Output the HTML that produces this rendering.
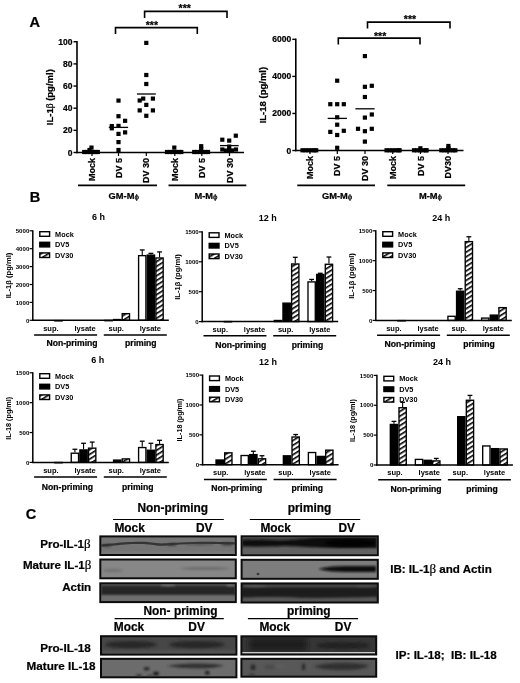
<!DOCTYPE html>
<html><head><meta charset="utf-8"><style>
html,body{margin:0;padding:0;background:#fff;}
svg{display:block;filter:blur(0.3px);}
text{font-family:"Liberation Sans", sans-serif;stroke:#000;stroke-width:0.22px;}
text.t{stroke:none;}
</style></head><body>
<svg width="520" height="683" viewBox="0 0 520 683">
<defs>
<pattern id="hatch" patternUnits="userSpaceOnUse" width="4" height="4" patternTransform="rotate(-32)">
<rect width="4" height="4" fill="#fff"/><rect width="4" height="1.6" fill="#000"/>
</pattern>
<filter id="b0_25" x="-50%" y="-50%" width="200%" height="200%"><feGaussianBlur stdDeviation="0.25"/></filter>
<filter id="b0_5" x="-50%" y="-50%" width="200%" height="200%"><feGaussianBlur stdDeviation="0.5"/></filter>
<filter id="b0_7" x="-50%" y="-50%" width="200%" height="200%"><feGaussianBlur stdDeviation="0.7"/></filter>
<filter id="b0_8" x="-50%" y="-50%" width="200%" height="200%"><feGaussianBlur stdDeviation="0.8"/></filter>
<filter id="b0_9" x="-50%" y="-50%" width="200%" height="200%"><feGaussianBlur stdDeviation="0.9"/></filter>
<filter id="b1" x="-50%" y="-50%" width="200%" height="200%"><feGaussianBlur stdDeviation="1"/></filter>
<filter id="b1_2" x="-50%" y="-50%" width="200%" height="200%"><feGaussianBlur stdDeviation="1.2"/></filter>
<filter id="b1_5" x="-50%" y="-50%" width="200%" height="200%"><feGaussianBlur stdDeviation="1.5"/></filter>
<filter id="b2_5" x="-50%" y="-50%" width="200%" height="200%"><feGaussianBlur stdDeviation="2.5"/></filter>
</defs>
<rect width="520" height="683" fill="#fff"/>
<text x="29.4" y="27.3" font-size="14.6" text-anchor="start" font-weight="bold" font-family='"Liberation Sans", sans-serif' fill="#000">A</text>
<line x1="77" y1="41" x2="77" y2="153.25" stroke="#000" stroke-width="1.6"/>
<line x1="73.5" y1="41.75" x2="77" y2="41.75" stroke="#000" stroke-width="1.4"/>
<text x="72.4" y="44.75" font-size="8.5" text-anchor="end" font-weight="bold" font-family='"Liberation Sans", sans-serif' fill="#000">100</text>
<line x1="73.5" y1="63.9" x2="77" y2="63.9" stroke="#000" stroke-width="1.4"/>
<text x="72.4" y="66.9" font-size="8.5" text-anchor="end" font-weight="bold" font-family='"Liberation Sans", sans-serif' fill="#000">80</text>
<line x1="73.5" y1="86.05" x2="77" y2="86.05" stroke="#000" stroke-width="1.4"/>
<text x="72.4" y="89.05" font-size="8.5" text-anchor="end" font-weight="bold" font-family='"Liberation Sans", sans-serif' fill="#000">60</text>
<line x1="73.5" y1="108.2" x2="77" y2="108.2" stroke="#000" stroke-width="1.4"/>
<text x="72.4" y="111.2" font-size="8.5" text-anchor="end" font-weight="bold" font-family='"Liberation Sans", sans-serif' fill="#000">40</text>
<line x1="73.5" y1="130.35" x2="77" y2="130.35" stroke="#000" stroke-width="1.4"/>
<text x="72.4" y="133.35" font-size="8.5" text-anchor="end" font-weight="bold" font-family='"Liberation Sans", sans-serif' fill="#000">20</text>
<line x1="73.5" y1="152.5" x2="77" y2="152.5" stroke="#000" stroke-width="1.4"/>
<text x="72.4" y="155.5" font-size="8.5" text-anchor="end" font-weight="bold" font-family='"Liberation Sans", sans-serif' fill="#000">0</text>
<line x1="76.2" y1="152.5" x2="244" y2="152.5" stroke="#000" stroke-width="1.6"/>
<line x1="92" y1="152.5" x2="92" y2="156" stroke="#000" stroke-width="1.2"/>
<text x="95.2" y="157.9" font-size="9" text-anchor="end" font-weight="bold" font-family='"Liberation Sans", sans-serif' fill="#000" transform="rotate(-90 95.2 157.9)">Mock</text>
<line x1="118.5" y1="152.5" x2="118.5" y2="156" stroke="#000" stroke-width="1.2"/>
<text x="121.7" y="157.9" font-size="9" text-anchor="end" font-weight="bold" font-family='"Liberation Sans", sans-serif' fill="#000" transform="rotate(-90 121.7 157.9)">DV 5</text>
<line x1="146.3" y1="152.5" x2="146.3" y2="156" stroke="#000" stroke-width="1.2"/>
<text x="149.5" y="157.9" font-size="9" text-anchor="end" font-weight="bold" font-family='"Liberation Sans", sans-serif' fill="#000" transform="rotate(-90 149.5 157.9)">DV 30</text>
<line x1="174.8" y1="152.5" x2="174.8" y2="156" stroke="#000" stroke-width="1.2"/>
<text x="178" y="157.9" font-size="9" text-anchor="end" font-weight="bold" font-family='"Liberation Sans", sans-serif' fill="#000" transform="rotate(-90 178 157.9)">Mock</text>
<line x1="201.8" y1="152.5" x2="201.8" y2="156" stroke="#000" stroke-width="1.2"/>
<text x="205" y="157.9" font-size="9" text-anchor="end" font-weight="bold" font-family='"Liberation Sans", sans-serif' fill="#000" transform="rotate(-90 205 157.9)">DV 5</text>
<line x1="229.5" y1="152.5" x2="229.5" y2="156" stroke="#000" stroke-width="1.2"/>
<text x="232.7" y="157.9" font-size="9" text-anchor="end" font-weight="bold" font-family='"Liberation Sans", sans-serif' fill="#000" transform="rotate(-90 232.7 157.9)">DV 30</text>
<text x="53.2" y="97.2" font-size="9.5" text-anchor="middle" font-weight="bold" font-family='"Liberation Sans", sans-serif' fill="#000" transform="rotate(-90 53.2 97.2)">IL-1<tspan font-family='"Liberation Serif", serif' font-weight="normal">β</tspan> (pg/ml)</text>
<line x1="78" y1="185.4" x2="157" y2="185.4" stroke="#000" stroke-width="1.6"/>
<text x="108.6" y="199.2" font-size="9.3" text-anchor="start" font-weight="bold" font-family='"Liberation Sans", sans-serif' fill="#000">GM-M<tspan font-size="8" font-weight="normal">ϕ</tspan></text>
<line x1="168.5" y1="185.4" x2="246.3" y2="185.4" stroke="#000" stroke-width="1.6"/>
<text x="194.4" y="199.2" font-size="9.3" text-anchor="start" font-weight="bold" font-family='"Liberation Sans", sans-serif' fill="#000">M-M<tspan font-size="8" font-weight="normal">ϕ</tspan></text>
<rect x="82.1" y="149.9" width="4.2" height="4.2" fill="#000"/>
<rect x="84.9" y="149.9" width="4.2" height="4.2" fill="#000"/>
<rect x="87.9" y="149.9" width="4.2" height="4.2" fill="#000"/>
<rect x="90.9" y="149.9" width="4.2" height="4.2" fill="#000"/>
<rect x="93.4" y="149.9" width="4.2" height="4.2" fill="#000"/>
<rect x="95.7" y="149.9" width="4.2" height="4.2" fill="#000"/>
<rect x="89.4" y="145.5" width="4.2" height="4.2" fill="#000"/>
<rect x="87.4" y="147.9" width="4.2" height="4.2" fill="#000"/>
<rect x="116.4" y="98.5" width="4.2" height="4.2" fill="#000"/>
<rect x="116.4" y="114.1" width="4.2" height="4.2" fill="#000"/>
<rect x="123" y="118.7" width="4.2" height="4.2" fill="#000"/>
<rect x="109.7" y="124" width="4.2" height="4.2" fill="#000"/>
<rect x="109.7" y="126.2" width="4.2" height="4.2" fill="#000"/>
<rect x="116.4" y="123.8" width="4.2" height="4.2" fill="#000"/>
<rect x="116.4" y="131.8" width="4.2" height="4.2" fill="#000"/>
<rect x="123" y="130.3" width="4.2" height="4.2" fill="#000"/>
<rect x="116.4" y="140" width="4.2" height="4.2" fill="#000"/>
<rect x="116.4" y="147.9" width="4.2" height="4.2" fill="#000"/>
<line x1="108.8" y1="127.4" x2="128.1" y2="127.4" stroke="#000" stroke-width="1.3"/>
<rect x="144.2" y="40.8" width="4.2" height="4.2" fill="#000"/>
<rect x="144.2" y="72.9" width="4.2" height="4.2" fill="#000"/>
<rect x="144.2" y="81.9" width="4.2" height="4.2" fill="#000"/>
<rect x="137.6" y="98.4" width="4.2" height="4.2" fill="#000"/>
<rect x="141.1" y="96.5" width="4.2" height="4.2" fill="#000"/>
<rect x="150.8" y="96.5" width="4.2" height="4.2" fill="#000"/>
<rect x="144.2" y="102.8" width="4.2" height="4.2" fill="#000"/>
<rect x="137.6" y="108.3" width="4.2" height="4.2" fill="#000"/>
<rect x="150.8" y="108.3" width="4.2" height="4.2" fill="#000"/>
<rect x="144.2" y="113.7" width="4.2" height="4.2" fill="#000"/>
<line x1="137" y1="94" x2="155.8" y2="94" stroke="#000" stroke-width="1.3"/>
<rect x="164.9" y="149.9" width="4.2" height="4.2" fill="#000"/>
<rect x="167.9" y="149.9" width="4.2" height="4.2" fill="#000"/>
<rect x="170.9" y="149.9" width="4.2" height="4.2" fill="#000"/>
<rect x="173.9" y="149.9" width="4.2" height="4.2" fill="#000"/>
<rect x="176.9" y="149.9" width="4.2" height="4.2" fill="#000"/>
<rect x="179.2" y="149.9" width="4.2" height="4.2" fill="#000"/>
<rect x="172.2" y="145.5" width="4.2" height="4.2" fill="#000"/>
<rect x="192.1" y="149.9" width="4.2" height="4.2" fill="#000"/>
<rect x="194.9" y="149.9" width="4.2" height="4.2" fill="#000"/>
<rect x="197.9" y="149.9" width="4.2" height="4.2" fill="#000"/>
<rect x="200.9" y="149.9" width="4.2" height="4.2" fill="#000"/>
<rect x="203.4" y="149.9" width="4.2" height="4.2" fill="#000"/>
<rect x="205.9" y="149.9" width="4.2" height="4.2" fill="#000"/>
<rect x="199.1" y="144.1" width="4.2" height="4.2" fill="#000"/>
<rect x="199.1" y="146.9" width="4.2" height="4.2" fill="#000"/>
<rect x="220.2" y="137.6" width="4.2" height="4.2" fill="#000"/>
<rect x="227.1" y="138.5" width="4.2" height="4.2" fill="#000"/>
<rect x="233.7" y="133.6" width="4.2" height="4.2" fill="#000"/>
<rect x="220.2" y="147.4" width="4.2" height="4.2" fill="#000"/>
<rect x="233.9" y="147.4" width="4.2" height="4.2" fill="#000"/>
<rect x="227.1" y="144.5" width="4.2" height="4.2" fill="#000"/>
<rect x="223.9" y="148.4" width="4.2" height="4.2" fill="#000"/>
<rect x="229.9" y="148.4" width="4.2" height="4.2" fill="#000"/>
<rect x="227.1" y="147.9" width="4.2" height="4.2" fill="#000"/>
<line x1="220" y1="145.6" x2="238.7" y2="145.6" stroke="#000" stroke-width="1.3"/>
<path d="M144.6 17.9 V11.4 H227 V17.9" fill="none" stroke="#000" stroke-width="1.6"/>
<text x="184.7" y="12.2" font-size="10.5" text-anchor="middle" font-weight="bold" font-family='"Liberation Sans", sans-serif' fill="#000">***</text>
<path d="M115.5 34 V27.6 H197.3 V34" fill="none" stroke="#000" stroke-width="1.6"/>
<text x="151.9" y="29" font-size="10.5" text-anchor="middle" font-weight="bold" font-family='"Liberation Sans", sans-serif' fill="#000">***</text>
<line x1="295.8" y1="38.6" x2="295.8" y2="151.25" stroke="#000" stroke-width="1.6"/>
<line x1="292.3" y1="39.35" x2="295.8" y2="39.35" stroke="#000" stroke-width="1.4"/>
<text x="291.2" y="42.35" font-size="8.5" text-anchor="end" font-weight="bold" font-family='"Liberation Sans", sans-serif' fill="#000">6000</text>
<line x1="292.3" y1="76.4" x2="295.8" y2="76.4" stroke="#000" stroke-width="1.4"/>
<text x="291.2" y="79.4" font-size="8.5" text-anchor="end" font-weight="bold" font-family='"Liberation Sans", sans-serif' fill="#000">4000</text>
<line x1="292.3" y1="113.45" x2="295.8" y2="113.45" stroke="#000" stroke-width="1.4"/>
<text x="291.2" y="116.45" font-size="8.5" text-anchor="end" font-weight="bold" font-family='"Liberation Sans", sans-serif' fill="#000">2000</text>
<line x1="292.3" y1="150.5" x2="295.8" y2="150.5" stroke="#000" stroke-width="1.4"/>
<text x="291.2" y="153.5" font-size="8.5" text-anchor="end" font-weight="bold" font-family='"Liberation Sans", sans-serif' fill="#000">0</text>
<line x1="295" y1="150.5" x2="463.5" y2="150.5" stroke="#000" stroke-width="1.6"/>
<line x1="310" y1="150.5" x2="310" y2="154" stroke="#000" stroke-width="1.2"/>
<text x="313.2" y="155.9" font-size="9" text-anchor="end" font-weight="bold" font-family='"Liberation Sans", sans-serif' fill="#000" transform="rotate(-90 313.2 155.9)">Mock</text>
<line x1="337.3" y1="150.5" x2="337.3" y2="154" stroke="#000" stroke-width="1.2"/>
<text x="340.5" y="155.9" font-size="9" text-anchor="end" font-weight="bold" font-family='"Liberation Sans", sans-serif' fill="#000" transform="rotate(-90 340.5 155.9)">DV 5</text>
<line x1="365" y1="150.5" x2="365" y2="154" stroke="#000" stroke-width="1.2"/>
<text x="368.2" y="155.9" font-size="9" text-anchor="end" font-weight="bold" font-family='"Liberation Sans", sans-serif' fill="#000" transform="rotate(-90 368.2 155.9)">DV 30</text>
<line x1="392.7" y1="150.5" x2="392.7" y2="154" stroke="#000" stroke-width="1.2"/>
<text x="395.9" y="155.9" font-size="9" text-anchor="end" font-weight="bold" font-family='"Liberation Sans", sans-serif' fill="#000" transform="rotate(-90 395.9 155.9)">Mock</text>
<line x1="420.4" y1="150.5" x2="420.4" y2="154" stroke="#000" stroke-width="1.2"/>
<text x="423.6" y="155.9" font-size="9" text-anchor="end" font-weight="bold" font-family='"Liberation Sans", sans-serif' fill="#000" transform="rotate(-90 423.6 155.9)">DV 5</text>
<line x1="448" y1="150.5" x2="448" y2="154" stroke="#000" stroke-width="1.2"/>
<text x="451.2" y="155.9" font-size="9" text-anchor="end" font-weight="bold" font-family='"Liberation Sans", sans-serif' fill="#000" transform="rotate(-90 451.2 155.9)">DV30</text>
<text x="266.4" y="95.1" font-size="9.5" text-anchor="middle" font-weight="bold" font-family='"Liberation Sans", sans-serif' fill="#000" transform="rotate(-90 266.4 95.1)">IL-18 (pg/ml)</text>
<line x1="297.3" y1="185.4" x2="375" y2="185.4" stroke="#000" stroke-width="1.6"/>
<text x="322" y="199.2" font-size="9.3" text-anchor="start" font-weight="bold" font-family='"Liberation Sans", sans-serif' fill="#000">GM-M<tspan font-size="8" font-weight="normal">ϕ</tspan></text>
<line x1="387.3" y1="185.4" x2="465.2" y2="185.4" stroke="#000" stroke-width="1.6"/>
<text x="419" y="199.2" font-size="9.3" text-anchor="start" font-weight="bold" font-family='"Liberation Sans", sans-serif' fill="#000">M-M<tspan font-size="8" font-weight="normal">ϕ</tspan></text>
<rect x="300.4" y="148.2" width="4.2" height="4.2" fill="#000"/>
<rect x="303.4" y="148.2" width="4.2" height="4.2" fill="#000"/>
<rect x="306.4" y="148.2" width="4.2" height="4.2" fill="#000"/>
<rect x="309.4" y="148.2" width="4.2" height="4.2" fill="#000"/>
<rect x="312.4" y="148.2" width="4.2" height="4.2" fill="#000"/>
<rect x="314.1" y="148.2" width="4.2" height="4.2" fill="#000"/>
<rect x="335.1" y="78.6" width="4.2" height="4.2" fill="#000"/>
<rect x="328.2" y="102.1" width="4.2" height="4.2" fill="#000"/>
<rect x="335.1" y="102.1" width="4.2" height="4.2" fill="#000"/>
<rect x="341.7" y="102.1" width="4.2" height="4.2" fill="#000"/>
<rect x="335.1" y="115.2" width="4.2" height="4.2" fill="#000"/>
<rect x="335.1" y="122.6" width="4.2" height="4.2" fill="#000"/>
<rect x="328.2" y="129.8" width="4.2" height="4.2" fill="#000"/>
<rect x="341.7" y="128.7" width="4.2" height="4.2" fill="#000"/>
<rect x="335.1" y="132.9" width="4.2" height="4.2" fill="#000"/>
<rect x="335.1" y="145.7" width="4.2" height="4.2" fill="#000"/>
<line x1="327.7" y1="118.4" x2="346.9" y2="118.4" stroke="#000" stroke-width="1.3"/>
<rect x="362.8" y="54" width="4.2" height="4.2" fill="#000"/>
<rect x="362.8" y="84.7" width="4.2" height="4.2" fill="#000"/>
<rect x="369.7" y="83.7" width="4.2" height="4.2" fill="#000"/>
<rect x="362.8" y="94.9" width="4.2" height="4.2" fill="#000"/>
<rect x="362.8" y="115.5" width="4.2" height="4.2" fill="#000"/>
<rect x="369.7" y="112.4" width="4.2" height="4.2" fill="#000"/>
<rect x="355.9" y="126.7" width="4.2" height="4.2" fill="#000"/>
<rect x="362.8" y="129.1" width="4.2" height="4.2" fill="#000"/>
<rect x="369.7" y="126.7" width="4.2" height="4.2" fill="#000"/>
<rect x="362.8" y="139.5" width="4.2" height="4.2" fill="#000"/>
<line x1="355.4" y1="108.8" x2="374.6" y2="108.8" stroke="#000" stroke-width="1.3"/>
<rect x="384.4" y="148.2" width="4.2" height="4.2" fill="#000"/>
<rect x="387.4" y="148.2" width="4.2" height="4.2" fill="#000"/>
<rect x="390.4" y="148.2" width="4.2" height="4.2" fill="#000"/>
<rect x="393.4" y="148.2" width="4.2" height="4.2" fill="#000"/>
<rect x="396.4" y="148.2" width="4.2" height="4.2" fill="#000"/>
<rect x="397.5" y="148.2" width="4.2" height="4.2" fill="#000"/>
<rect x="411.9" y="148.2" width="4.2" height="4.2" fill="#000"/>
<rect x="414.9" y="148.2" width="4.2" height="4.2" fill="#000"/>
<rect x="417.9" y="148.2" width="4.2" height="4.2" fill="#000"/>
<rect x="420.9" y="148.2" width="4.2" height="4.2" fill="#000"/>
<rect x="423.9" y="148.2" width="4.2" height="4.2" fill="#000"/>
<rect x="424.5" y="148.2" width="4.2" height="4.2" fill="#000"/>
<rect x="418.3" y="146.2" width="4.2" height="4.2" fill="#000"/>
<rect x="439.2" y="148.2" width="4.2" height="4.2" fill="#000"/>
<rect x="442.2" y="148.2" width="4.2" height="4.2" fill="#000"/>
<rect x="445.2" y="148.2" width="4.2" height="4.2" fill="#000"/>
<rect x="448.2" y="148.2" width="4.2" height="4.2" fill="#000"/>
<rect x="451.2" y="148.2" width="4.2" height="4.2" fill="#000"/>
<rect x="453.3" y="148.2" width="4.2" height="4.2" fill="#000"/>
<rect x="446.3" y="143.9" width="4.2" height="4.2" fill="#000"/>
<rect x="446.3" y="146.4" width="4.2" height="4.2" fill="#000"/>
<path d="M367.5 28.5 V22.1 H450 V28.5" fill="none" stroke="#000" stroke-width="1.6"/>
<text x="410" y="23" font-size="10.5" text-anchor="middle" font-weight="bold" font-family='"Liberation Sans", sans-serif' fill="#000">***</text>
<path d="M338.3 44.6 V38.1 H420 V44.6" fill="none" stroke="#000" stroke-width="1.6"/>
<text x="380.1" y="40" font-size="10.5" text-anchor="middle" font-weight="bold" font-family='"Liberation Sans", sans-serif' fill="#000">***</text>
<text x="29.7" y="202.1" font-size="14.6" text-anchor="start" font-weight="bold" font-family='"Liberation Sans", sans-serif' fill="#000">B</text>
<rect x="54.88" y="320.62" width="7.3" height="0.3" fill="url(#hatch)" stroke="#000" stroke-width="1.35"/>
<rect x="104.92" y="320.44" width="7.3" height="0.3" fill="#fff" stroke="#000" stroke-width="1.35"/>
<rect x="113.57" y="319.54" width="7.3" height="0.76" fill="#000" stroke="#000" stroke-width="1.35"/>
<rect x="122.22" y="313.64" width="7.3" height="6.66" fill="url(#hatch)" stroke="#000" stroke-width="1.35"/>
<line x1="142.23" y1="249.95" x2="142.23" y2="254.97" stroke="#000" stroke-width="1.1"/>
<line x1="139.83" y1="249.95" x2="144.63" y2="249.95" stroke="#000" stroke-width="1.3"/>
<rect x="138.59" y="255.64" width="7.3" height="64.66" fill="#fff" stroke="#000" stroke-width="1.35"/>
<line x1="150.88" y1="253.35" x2="150.88" y2="254.43" stroke="#000" stroke-width="1.1"/>
<line x1="148.48" y1="253.35" x2="153.28" y2="253.35" stroke="#000" stroke-width="1.3"/>
<rect x="147.24" y="255.1" width="7.3" height="65.2" fill="#000" stroke="#000" stroke-width="1.35"/>
<line x1="159.53" y1="251.92" x2="159.53" y2="257.29" stroke="#000" stroke-width="1.1"/>
<line x1="157.13" y1="251.92" x2="161.94" y2="251.92" stroke="#000" stroke-width="1.3"/>
<rect x="155.89" y="257.97" width="7.3" height="62.33" fill="url(#hatch)" stroke="#000" stroke-width="1.35"/>
<line x1="32.8" y1="230.2" x2="32.8" y2="321" stroke="#000" stroke-width="1.5"/>
<line x1="29.6" y1="320.3" x2="32.8" y2="320.3" stroke="#000" stroke-width="1.2"/>
<text x="29.3" y="322.5" font-size="6.1" text-anchor="end" font-weight="bold" font-family='"Liberation Sans", sans-serif' fill="#000" class="t">0</text>
<line x1="29.6" y1="302.4" x2="32.8" y2="302.4" stroke="#000" stroke-width="1.2"/>
<text x="29.3" y="304.6" font-size="6.1" text-anchor="end" font-weight="bold" font-family='"Liberation Sans", sans-serif' fill="#000" class="t">1000</text>
<line x1="29.6" y1="284.5" x2="32.8" y2="284.5" stroke="#000" stroke-width="1.2"/>
<text x="29.3" y="286.7" font-size="6.1" text-anchor="end" font-weight="bold" font-family='"Liberation Sans", sans-serif' fill="#000" class="t">2000</text>
<line x1="29.6" y1="266.6" x2="32.8" y2="266.6" stroke="#000" stroke-width="1.2"/>
<text x="29.3" y="268.8" font-size="6.1" text-anchor="end" font-weight="bold" font-family='"Liberation Sans", sans-serif' fill="#000" class="t">3000</text>
<line x1="29.6" y1="248.7" x2="32.8" y2="248.7" stroke="#000" stroke-width="1.2"/>
<text x="29.3" y="250.9" font-size="6.1" text-anchor="end" font-weight="bold" font-family='"Liberation Sans", sans-serif' fill="#000" class="t">4000</text>
<line x1="29.6" y1="230.8" x2="32.8" y2="230.8" stroke="#000" stroke-width="1.2"/>
<text x="29.3" y="233" font-size="6.1" text-anchor="end" font-weight="bold" font-family='"Liberation Sans", sans-serif' fill="#000" class="t">5000</text>
<line x1="32.1" y1="320.3" x2="168.8" y2="320.3" stroke="#000" stroke-width="1.5"/>
<rect x="39.8" y="231.7" width="9.8" height="4.6" fill="#fff" stroke="#000" stroke-width="1.4"/>
<text x="55.1" y="236.6" font-size="7.3" text-anchor="start" font-weight="bold" font-family='"Liberation Sans", sans-serif' fill="#000" class="t">Mock</text>
<rect x="39.8" y="242.3" width="9.8" height="4.6" fill="#000" stroke="#000" stroke-width="1.4"/>
<text x="55.1" y="247.2" font-size="7.3" text-anchor="start" font-weight="bold" font-family='"Liberation Sans", sans-serif' fill="#000" class="t">DV5</text>
<rect x="39.8" y="252.9" width="9.8" height="4.6" fill="url(#hatch)" stroke="#000" stroke-width="1.4"/>
<text x="55.1" y="257.8" font-size="7.3" text-anchor="start" font-weight="bold" font-family='"Liberation Sans", sans-serif' fill="#000" class="t">DV30</text>
<text x="11.3" y="275.5" font-size="7.6" text-anchor="middle" font-weight="bold" font-family='"Liberation Sans", sans-serif' fill="#000" transform="rotate(-90 11.3 275.5)" class="t">IL-1β (pg/ml)</text>
<text x="98.5" y="219.6" font-size="9" text-anchor="middle" font-weight="bold" font-family='"Liberation Sans", sans-serif' fill="#000" class="t">6 h</text>
<text x="50.9" y="330.9" font-size="7.5" text-anchor="middle" font-weight="bold" font-family='"Liberation Sans", sans-serif' fill="#000" class="t">sup.</text>
<text x="85.1" y="330.9" font-size="7.5" text-anchor="middle" font-weight="bold" font-family='"Liberation Sans", sans-serif' fill="#000" class="t">lysate</text>
<text x="116.2" y="330.9" font-size="7.5" text-anchor="middle" font-weight="bold" font-family='"Liberation Sans", sans-serif' fill="#000" class="t">sup.</text>
<text x="150.4" y="330.9" font-size="7.5" text-anchor="middle" font-weight="bold" font-family='"Liberation Sans", sans-serif' fill="#000" class="t">lysate</text>
<line x1="34.1" y1="334.9" x2="97.1" y2="334.9" stroke="#000" stroke-width="1.5"/>
<line x1="103.8" y1="334.9" x2="166.8" y2="334.9" stroke="#000" stroke-width="1.5"/>
<text x="72" y="346.3" font-size="8.6" text-anchor="middle" font-weight="bold" font-family='"Liberation Sans", sans-serif' fill="#000">Non-priming</text>
<text x="140.8" y="346.3" font-size="8.6" text-anchor="middle" font-weight="bold" font-family='"Liberation Sans", sans-serif' fill="#000">priming</text>
<rect x="224.28" y="321.56" width="7.3" height="0.3" fill="url(#hatch)" stroke="#000" stroke-width="1.35"/>
<rect x="274.31" y="320.48" width="7.3" height="1.12" fill="#fff" stroke="#000" stroke-width="1.35"/>
<rect x="282.96" y="303.14" width="7.3" height="18.46" fill="#000" stroke="#000" stroke-width="1.35"/>
<line x1="295.26" y1="257.31" x2="295.26" y2="263.3" stroke="#000" stroke-width="1.1"/>
<line x1="292.87" y1="257.31" x2="297.66" y2="257.31" stroke="#000" stroke-width="1.3"/>
<rect x="291.62" y="263.97" width="7.3" height="57.63" fill="url(#hatch)" stroke="#000" stroke-width="1.35"/>
<line x1="311.63" y1="279.44" x2="311.63" y2="281.24" stroke="#000" stroke-width="1.1"/>
<line x1="309.24" y1="279.44" x2="314.03" y2="279.44" stroke="#000" stroke-width="1.3"/>
<rect x="307.99" y="281.91" width="7.3" height="39.69" fill="#fff" stroke="#000" stroke-width="1.35"/>
<line x1="320.28" y1="273.28" x2="320.28" y2="273.76" stroke="#000" stroke-width="1.1"/>
<line x1="317.88" y1="273.28" x2="322.68" y2="273.28" stroke="#000" stroke-width="1.3"/>
<rect x="316.63" y="274.44" width="7.3" height="47.17" fill="#000" stroke="#000" stroke-width="1.35"/>
<line x1="328.94" y1="257.02" x2="328.94" y2="263.59" stroke="#000" stroke-width="1.1"/>
<line x1="326.54" y1="257.02" x2="331.33" y2="257.02" stroke="#000" stroke-width="1.3"/>
<rect x="325.29" y="264.27" width="7.3" height="57.33" fill="url(#hatch)" stroke="#000" stroke-width="1.35"/>
<line x1="202.2" y1="231.3" x2="202.2" y2="322.3" stroke="#000" stroke-width="1.5"/>
<line x1="199" y1="321.6" x2="202.2" y2="321.6" stroke="#000" stroke-width="1.2"/>
<text x="198.7" y="323.8" font-size="6.1" text-anchor="end" font-weight="bold" font-family='"Liberation Sans", sans-serif' fill="#000" class="t">0</text>
<line x1="199" y1="291.7" x2="202.2" y2="291.7" stroke="#000" stroke-width="1.2"/>
<text x="198.7" y="293.9" font-size="6.1" text-anchor="end" font-weight="bold" font-family='"Liberation Sans", sans-serif' fill="#000" class="t">500</text>
<line x1="199" y1="261.8" x2="202.2" y2="261.8" stroke="#000" stroke-width="1.2"/>
<text x="198.7" y="264" font-size="6.1" text-anchor="end" font-weight="bold" font-family='"Liberation Sans", sans-serif' fill="#000" class="t">1000</text>
<line x1="199" y1="231.9" x2="202.2" y2="231.9" stroke="#000" stroke-width="1.2"/>
<text x="198.7" y="234.1" font-size="6.1" text-anchor="end" font-weight="bold" font-family='"Liberation Sans", sans-serif' fill="#000" class="t">1500</text>
<line x1="201.5" y1="321.6" x2="338.2" y2="321.6" stroke="#000" stroke-width="1.5"/>
<rect x="209.2" y="232.8" width="9.8" height="4.6" fill="#fff" stroke="#000" stroke-width="1.4"/>
<text x="224.5" y="237.7" font-size="7.3" text-anchor="start" font-weight="bold" font-family='"Liberation Sans", sans-serif' fill="#000" class="t">Mock</text>
<rect x="209.2" y="243.4" width="9.8" height="4.6" fill="#000" stroke="#000" stroke-width="1.4"/>
<text x="224.5" y="248.3" font-size="7.3" text-anchor="start" font-weight="bold" font-family='"Liberation Sans", sans-serif' fill="#000" class="t">DV5</text>
<rect x="209.2" y="254" width="9.8" height="4.6" fill="url(#hatch)" stroke="#000" stroke-width="1.4"/>
<text x="224.5" y="258.9" font-size="7.3" text-anchor="start" font-weight="bold" font-family='"Liberation Sans", sans-serif' fill="#000" class="t">DV30</text>
<text x="180.3" y="277" font-size="7.6" text-anchor="middle" font-weight="bold" font-family='"Liberation Sans", sans-serif' fill="#000" transform="rotate(-90 180.3 277)" class="t">IL-1β (pg/ml)</text>
<text x="267.8" y="220.8" font-size="9" text-anchor="middle" font-weight="bold" font-family='"Liberation Sans", sans-serif' fill="#000" class="t">12 h</text>
<text x="220.3" y="331.7" font-size="7.5" text-anchor="middle" font-weight="bold" font-family='"Liberation Sans", sans-serif' fill="#000" class="t">sup.</text>
<text x="254.5" y="331.7" font-size="7.5" text-anchor="middle" font-weight="bold" font-family='"Liberation Sans", sans-serif' fill="#000" class="t">lysate</text>
<text x="285.6" y="331.7" font-size="7.5" text-anchor="middle" font-weight="bold" font-family='"Liberation Sans", sans-serif' fill="#000" class="t">sup.</text>
<text x="319.8" y="331.7" font-size="7.5" text-anchor="middle" font-weight="bold" font-family='"Liberation Sans", sans-serif' fill="#000" class="t">lysate</text>
<line x1="203.5" y1="335.7" x2="266.5" y2="335.7" stroke="#000" stroke-width="1.5"/>
<line x1="273.2" y1="335.7" x2="336.2" y2="335.7" stroke="#000" stroke-width="1.5"/>
<text x="240.8" y="347.8" font-size="8.6" text-anchor="middle" font-weight="bold" font-family='"Liberation Sans", sans-serif' fill="#000">Non-priming</text>
<text x="307.4" y="347.8" font-size="8.6" text-anchor="middle" font-weight="bold" font-family='"Liberation Sans", sans-serif' fill="#000">priming</text>
<rect x="397.88" y="320.6" width="7.3" height="0.3" fill="url(#hatch)" stroke="#000" stroke-width="1.35"/>
<rect x="447.92" y="316.3" width="7.3" height="4.1" fill="#fff" stroke="#000" stroke-width="1.35"/>
<line x1="460.21" y1="288.74" x2="460.21" y2="290.53" stroke="#000" stroke-width="1.1"/>
<line x1="457.81" y1="288.74" x2="462.61" y2="288.74" stroke="#000" stroke-width="1.3"/>
<rect x="456.56" y="291.21" width="7.3" height="29.19" fill="#000" stroke="#000" stroke-width="1.35"/>
<line x1="468.87" y1="236.77" x2="468.87" y2="240.95" stroke="#000" stroke-width="1.1"/>
<line x1="466.47" y1="236.77" x2="471.26" y2="236.77" stroke="#000" stroke-width="1.3"/>
<rect x="465.22" y="241.63" width="7.3" height="78.77" fill="url(#hatch)" stroke="#000" stroke-width="1.35"/>
<rect x="481.59" y="318.09" width="7.3" height="2.31" fill="#fff" stroke="#000" stroke-width="1.35"/>
<rect x="490.24" y="315.1" width="7.3" height="5.3" fill="#000" stroke="#000" stroke-width="1.35"/>
<rect x="498.89" y="307.63" width="7.3" height="12.76" fill="url(#hatch)" stroke="#000" stroke-width="1.35"/>
<line x1="375.8" y1="230.2" x2="375.8" y2="321.1" stroke="#000" stroke-width="1.5"/>
<line x1="372.6" y1="320.4" x2="375.8" y2="320.4" stroke="#000" stroke-width="1.2"/>
<text x="372.3" y="322.6" font-size="6.1" text-anchor="end" font-weight="bold" font-family='"Liberation Sans", sans-serif' fill="#000" class="t">0</text>
<line x1="372.6" y1="290.53" x2="375.8" y2="290.53" stroke="#000" stroke-width="1.2"/>
<text x="372.3" y="292.73" font-size="6.1" text-anchor="end" font-weight="bold" font-family='"Liberation Sans", sans-serif' fill="#000" class="t">500</text>
<line x1="372.6" y1="260.67" x2="375.8" y2="260.67" stroke="#000" stroke-width="1.2"/>
<text x="372.3" y="262.87" font-size="6.1" text-anchor="end" font-weight="bold" font-family='"Liberation Sans", sans-serif' fill="#000" class="t">1000</text>
<line x1="372.6" y1="230.8" x2="375.8" y2="230.8" stroke="#000" stroke-width="1.2"/>
<text x="372.3" y="233" font-size="6.1" text-anchor="end" font-weight="bold" font-family='"Liberation Sans", sans-serif' fill="#000" class="t">1500</text>
<line x1="375.1" y1="320.4" x2="511.8" y2="320.4" stroke="#000" stroke-width="1.5"/>
<rect x="382.8" y="231.7" width="9.8" height="4.6" fill="#fff" stroke="#000" stroke-width="1.4"/>
<text x="398.1" y="236.6" font-size="7.3" text-anchor="start" font-weight="bold" font-family='"Liberation Sans", sans-serif' fill="#000" class="t">Mock</text>
<rect x="382.8" y="242.3" width="9.8" height="4.6" fill="#000" stroke="#000" stroke-width="1.4"/>
<text x="398.1" y="247.2" font-size="7.3" text-anchor="start" font-weight="bold" font-family='"Liberation Sans", sans-serif' fill="#000" class="t">DV5</text>
<rect x="382.8" y="252.9" width="9.8" height="4.6" fill="url(#hatch)" stroke="#000" stroke-width="1.4"/>
<text x="398.1" y="257.8" font-size="7.3" text-anchor="start" font-weight="bold" font-family='"Liberation Sans", sans-serif' fill="#000" class="t">DV30</text>
<text x="354" y="276" font-size="7.6" text-anchor="middle" font-weight="bold" font-family='"Liberation Sans", sans-serif' fill="#000" transform="rotate(-90 354 276)" class="t">IL-1β (pg/ml)</text>
<text x="441.2" y="220.8" font-size="9" text-anchor="middle" font-weight="bold" font-family='"Liberation Sans", sans-serif' fill="#000" class="t">24 h</text>
<text x="393.9" y="331.2" font-size="7.5" text-anchor="middle" font-weight="bold" font-family='"Liberation Sans", sans-serif' fill="#000" class="t">sup.</text>
<text x="428.1" y="331.2" font-size="7.5" text-anchor="middle" font-weight="bold" font-family='"Liberation Sans", sans-serif' fill="#000" class="t">lysate</text>
<text x="459.2" y="331.2" font-size="7.5" text-anchor="middle" font-weight="bold" font-family='"Liberation Sans", sans-serif' fill="#000" class="t">sup.</text>
<text x="493.4" y="331.2" font-size="7.5" text-anchor="middle" font-weight="bold" font-family='"Liberation Sans", sans-serif' fill="#000" class="t">lysate</text>
<line x1="377.1" y1="335.2" x2="440.1" y2="335.2" stroke="#000" stroke-width="1.5"/>
<line x1="446.8" y1="335.2" x2="509.8" y2="335.2" stroke="#000" stroke-width="1.5"/>
<text x="410" y="347.3" font-size="8.6" text-anchor="middle" font-weight="bold" font-family='"Liberation Sans", sans-serif' fill="#000">Non-priming</text>
<text x="479" y="347.3" font-size="8.6" text-anchor="middle" font-weight="bold" font-family='"Liberation Sans", sans-serif' fill="#000">priming</text>
<rect x="54.88" y="462.48" width="7.3" height="0.3" fill="url(#hatch)" stroke="#000" stroke-width="1.35"/>
<line x1="74.89" y1="449.26" x2="74.89" y2="452.54" stroke="#000" stroke-width="1.1"/>
<line x1="72.49" y1="449.26" x2="77.3" y2="449.26" stroke="#000" stroke-width="1.3"/>
<rect x="71.24" y="453.22" width="7.3" height="9.18" fill="#fff" stroke="#000" stroke-width="1.35"/>
<line x1="83.55" y1="443.29" x2="83.55" y2="449.26" stroke="#000" stroke-width="1.1"/>
<line x1="81.14" y1="443.29" x2="85.95" y2="443.29" stroke="#000" stroke-width="1.3"/>
<rect x="79.89" y="449.93" width="7.3" height="12.47" fill="#000" stroke="#000" stroke-width="1.35"/>
<line x1="92.19" y1="442.09" x2="92.19" y2="447.47" stroke="#000" stroke-width="1.1"/>
<line x1="89.79" y1="442.09" x2="94.59" y2="442.09" stroke="#000" stroke-width="1.3"/>
<rect x="88.54" y="448.14" width="7.3" height="14.26" fill="url(#hatch)" stroke="#000" stroke-width="1.35"/>
<rect x="113.57" y="460.09" width="7.3" height="2.31" fill="#000" stroke="#000" stroke-width="1.35"/>
<rect x="122.22" y="458.89" width="7.3" height="3.51" fill="url(#hatch)" stroke="#000" stroke-width="1.35"/>
<line x1="142.23" y1="441.19" x2="142.23" y2="446.87" stroke="#000" stroke-width="1.1"/>
<line x1="139.83" y1="441.19" x2="144.63" y2="441.19" stroke="#000" stroke-width="1.3"/>
<rect x="138.59" y="447.54" width="7.3" height="14.86" fill="#fff" stroke="#000" stroke-width="1.35"/>
<line x1="150.88" y1="443.29" x2="150.88" y2="449.56" stroke="#000" stroke-width="1.1"/>
<line x1="148.48" y1="443.29" x2="153.28" y2="443.29" stroke="#000" stroke-width="1.3"/>
<rect x="147.24" y="450.23" width="7.3" height="12.17" fill="#000" stroke="#000" stroke-width="1.35"/>
<line x1="159.53" y1="440.3" x2="159.53" y2="443.88" stroke="#000" stroke-width="1.1"/>
<line x1="157.13" y1="440.3" x2="161.94" y2="440.3" stroke="#000" stroke-width="1.3"/>
<rect x="155.89" y="444.56" width="7.3" height="17.84" fill="url(#hatch)" stroke="#000" stroke-width="1.35"/>
<line x1="32.8" y1="372.2" x2="32.8" y2="463.1" stroke="#000" stroke-width="1.5"/>
<line x1="29.6" y1="462.4" x2="32.8" y2="462.4" stroke="#000" stroke-width="1.2"/>
<text x="29.3" y="464.6" font-size="6.1" text-anchor="end" font-weight="bold" font-family='"Liberation Sans", sans-serif' fill="#000" class="t">0</text>
<line x1="29.6" y1="432.53" x2="32.8" y2="432.53" stroke="#000" stroke-width="1.2"/>
<text x="29.3" y="434.73" font-size="6.1" text-anchor="end" font-weight="bold" font-family='"Liberation Sans", sans-serif' fill="#000" class="t">500</text>
<line x1="29.6" y1="402.67" x2="32.8" y2="402.67" stroke="#000" stroke-width="1.2"/>
<text x="29.3" y="404.87" font-size="6.1" text-anchor="end" font-weight="bold" font-family='"Liberation Sans", sans-serif' fill="#000" class="t">1000</text>
<line x1="29.6" y1="372.8" x2="32.8" y2="372.8" stroke="#000" stroke-width="1.2"/>
<text x="29.3" y="375" font-size="6.1" text-anchor="end" font-weight="bold" font-family='"Liberation Sans", sans-serif' fill="#000" class="t">1500</text>
<line x1="32.1" y1="462.4" x2="168.8" y2="462.4" stroke="#000" stroke-width="1.5"/>
<rect x="39.8" y="373.7" width="9.8" height="4.6" fill="#fff" stroke="#000" stroke-width="1.4"/>
<text x="55.1" y="378.6" font-size="7.3" text-anchor="start" font-weight="bold" font-family='"Liberation Sans", sans-serif' fill="#000" class="t">Mock</text>
<rect x="39.8" y="384.3" width="9.8" height="4.6" fill="#000" stroke="#000" stroke-width="1.4"/>
<text x="55.1" y="389.2" font-size="7.3" text-anchor="start" font-weight="bold" font-family='"Liberation Sans", sans-serif' fill="#000" class="t">DV5</text>
<rect x="39.8" y="394.9" width="9.8" height="4.6" fill="url(#hatch)" stroke="#000" stroke-width="1.4"/>
<text x="55.1" y="399.8" font-size="7.3" text-anchor="start" font-weight="bold" font-family='"Liberation Sans", sans-serif' fill="#000" class="t">DV30</text>
<text x="11.2" y="418.3" font-size="7.2" text-anchor="middle" font-weight="bold" font-family='"Liberation Sans", sans-serif' fill="#000" transform="rotate(-90 11.2 418.3)" class="t">IL-18 (pg/ml)</text>
<text x="97.7" y="362.5" font-size="9" text-anchor="middle" font-weight="bold" font-family='"Liberation Sans", sans-serif' fill="#000" class="t">6 h</text>
<text x="50.9" y="472.9" font-size="7.5" text-anchor="middle" font-weight="bold" font-family='"Liberation Sans", sans-serif' fill="#000" class="t">sup.</text>
<text x="85.1" y="472.9" font-size="7.5" text-anchor="middle" font-weight="bold" font-family='"Liberation Sans", sans-serif' fill="#000" class="t">lysate</text>
<text x="116.2" y="472.9" font-size="7.5" text-anchor="middle" font-weight="bold" font-family='"Liberation Sans", sans-serif' fill="#000" class="t">sup.</text>
<text x="150.4" y="472.9" font-size="7.5" text-anchor="middle" font-weight="bold" font-family='"Liberation Sans", sans-serif' fill="#000" class="t">lysate</text>
<line x1="34.1" y1="477" x2="97.1" y2="477" stroke="#000" stroke-width="1.5"/>
<line x1="103.8" y1="477" x2="166.8" y2="477" stroke="#000" stroke-width="1.5"/>
<text x="67.4" y="489.6" font-size="8.6" text-anchor="middle" font-weight="bold" font-family='"Liberation Sans", sans-serif' fill="#000">Non-priming</text>
<text x="137.7" y="489.6" font-size="8.6" text-anchor="middle" font-weight="bold" font-family='"Liberation Sans", sans-serif' fill="#000">priming</text>
<rect x="216.03" y="460" width="7.3" height="4.7" fill="#000" stroke="#000" stroke-width="1.35"/>
<rect x="224.68" y="452.83" width="7.3" height="11.87" fill="url(#hatch)" stroke="#000" stroke-width="1.35"/>
<rect x="241.05" y="455.52" width="7.3" height="9.18" fill="#fff" stroke="#000" stroke-width="1.35"/>
<line x1="253.34" y1="451.26" x2="253.34" y2="453.95" stroke="#000" stroke-width="1.1"/>
<line x1="250.94" y1="451.26" x2="255.75" y2="451.26" stroke="#000" stroke-width="1.3"/>
<rect x="249.7" y="454.62" width="7.3" height="10.08" fill="#000" stroke="#000" stroke-width="1.35"/>
<line x1="262" y1="455.74" x2="262" y2="458.13" stroke="#000" stroke-width="1.1"/>
<line x1="259.6" y1="455.74" x2="264.39" y2="455.74" stroke="#000" stroke-width="1.3"/>
<rect x="258.35" y="458.8" width="7.3" height="5.9" fill="url(#hatch)" stroke="#000" stroke-width="1.35"/>
<rect x="283.36" y="455.82" width="7.3" height="8.88" fill="#000" stroke="#000" stroke-width="1.35"/>
<line x1="295.66" y1="434.53" x2="295.66" y2="436.33" stroke="#000" stroke-width="1.1"/>
<line x1="293.26" y1="434.53" x2="298.06" y2="434.53" stroke="#000" stroke-width="1.3"/>
<rect x="292.01" y="437" width="7.3" height="27.7" fill="url(#hatch)" stroke="#000" stroke-width="1.35"/>
<rect x="308.38" y="452.53" width="7.3" height="12.17" fill="#fff" stroke="#000" stroke-width="1.35"/>
<rect x="317.03" y="456.42" width="7.3" height="8.28" fill="#000" stroke="#000" stroke-width="1.35"/>
<rect x="325.69" y="450.14" width="7.3" height="14.56" fill="url(#hatch)" stroke="#000" stroke-width="1.35"/>
<line x1="202.6" y1="374.5" x2="202.6" y2="465.4" stroke="#000" stroke-width="1.5"/>
<line x1="199.4" y1="464.7" x2="202.6" y2="464.7" stroke="#000" stroke-width="1.2"/>
<text x="199.1" y="466.9" font-size="6.1" text-anchor="end" font-weight="bold" font-family='"Liberation Sans", sans-serif' fill="#000" class="t">0</text>
<line x1="199.4" y1="434.83" x2="202.6" y2="434.83" stroke="#000" stroke-width="1.2"/>
<text x="199.1" y="437.03" font-size="6.1" text-anchor="end" font-weight="bold" font-family='"Liberation Sans", sans-serif' fill="#000" class="t">500</text>
<line x1="199.4" y1="404.97" x2="202.6" y2="404.97" stroke="#000" stroke-width="1.2"/>
<text x="199.1" y="407.17" font-size="6.1" text-anchor="end" font-weight="bold" font-family='"Liberation Sans", sans-serif' fill="#000" class="t">1000</text>
<line x1="199.4" y1="375.1" x2="202.6" y2="375.1" stroke="#000" stroke-width="1.2"/>
<text x="199.1" y="377.3" font-size="6.1" text-anchor="end" font-weight="bold" font-family='"Liberation Sans", sans-serif' fill="#000" class="t">1500</text>
<line x1="201.9" y1="464.7" x2="338.6" y2="464.7" stroke="#000" stroke-width="1.5"/>
<rect x="209.6" y="376" width="9.8" height="4.6" fill="#fff" stroke="#000" stroke-width="1.4"/>
<text x="224.9" y="380.9" font-size="7.3" text-anchor="start" font-weight="bold" font-family='"Liberation Sans", sans-serif' fill="#000" class="t">Mock</text>
<rect x="209.6" y="386.6" width="9.8" height="4.6" fill="#000" stroke="#000" stroke-width="1.4"/>
<text x="224.9" y="391.5" font-size="7.3" text-anchor="start" font-weight="bold" font-family='"Liberation Sans", sans-serif' fill="#000" class="t">DV5</text>
<rect x="209.6" y="397.2" width="9.8" height="4.6" fill="url(#hatch)" stroke="#000" stroke-width="1.4"/>
<text x="224.9" y="402.1" font-size="7.3" text-anchor="start" font-weight="bold" font-family='"Liberation Sans", sans-serif' fill="#000" class="t">DV30</text>
<text x="181.5" y="420" font-size="7.2" text-anchor="middle" font-weight="bold" font-family='"Liberation Sans", sans-serif' fill="#000" transform="rotate(-90 181.5 420)" class="t">IL-18 (pg/ml)</text>
<text x="267.9" y="365" font-size="9" text-anchor="middle" font-weight="bold" font-family='"Liberation Sans", sans-serif' fill="#000" class="t">12 h</text>
<text x="220.7" y="474.8" font-size="7.5" text-anchor="middle" font-weight="bold" font-family='"Liberation Sans", sans-serif' fill="#000" class="t">sup.</text>
<text x="254.9" y="474.8" font-size="7.5" text-anchor="middle" font-weight="bold" font-family='"Liberation Sans", sans-serif' fill="#000" class="t">lysate</text>
<text x="286" y="474.8" font-size="7.5" text-anchor="middle" font-weight="bold" font-family='"Liberation Sans", sans-serif' fill="#000" class="t">sup.</text>
<text x="320.2" y="474.8" font-size="7.5" text-anchor="middle" font-weight="bold" font-family='"Liberation Sans", sans-serif' fill="#000" class="t">lysate</text>
<line x1="203.9" y1="479.4" x2="266.9" y2="479.4" stroke="#000" stroke-width="1.5"/>
<line x1="273.6" y1="479.4" x2="336.6" y2="479.4" stroke="#000" stroke-width="1.5"/>
<text x="236.8" y="491" font-size="8.6" text-anchor="middle" font-weight="bold" font-family='"Liberation Sans", sans-serif' fill="#000">Non-priming</text>
<text x="307.3" y="491" font-size="8.6" text-anchor="middle" font-weight="bold" font-family='"Liberation Sans", sans-serif' fill="#000">priming</text>
<line x1="393.97" y1="421.39" x2="393.97" y2="423.78" stroke="#000" stroke-width="1.1"/>
<line x1="391.57" y1="421.39" x2="396.37" y2="421.39" stroke="#000" stroke-width="1.3"/>
<rect x="390.32" y="424.46" width="7.3" height="40.54" fill="#000" stroke="#000" stroke-width="1.35"/>
<line x1="402.62" y1="402.28" x2="402.62" y2="407.06" stroke="#000" stroke-width="1.1"/>
<line x1="400.23" y1="402.28" x2="405.02" y2="402.28" stroke="#000" stroke-width="1.3"/>
<rect x="398.98" y="407.73" width="7.3" height="57.27" fill="url(#hatch)" stroke="#000" stroke-width="1.35"/>
<rect x="415.35" y="459.4" width="7.3" height="5.6" fill="#fff" stroke="#000" stroke-width="1.35"/>
<rect x="424" y="460.3" width="7.3" height="4.7" fill="#000" stroke="#000" stroke-width="1.35"/>
<line x1="436.3" y1="458.43" x2="436.3" y2="460.22" stroke="#000" stroke-width="1.1"/>
<line x1="433.9" y1="458.43" x2="438.69" y2="458.43" stroke="#000" stroke-width="1.3"/>
<rect x="432.65" y="460.9" width="7.3" height="4.1" fill="url(#hatch)" stroke="#000" stroke-width="1.35"/>
<rect x="457.67" y="416.69" width="7.3" height="48.31" fill="#000" stroke="#000" stroke-width="1.35"/>
<line x1="469.97" y1="395.41" x2="469.97" y2="399.59" stroke="#000" stroke-width="1.1"/>
<line x1="467.57" y1="395.41" x2="472.37" y2="395.41" stroke="#000" stroke-width="1.3"/>
<rect x="466.32" y="400.27" width="7.3" height="64.73" fill="url(#hatch)" stroke="#000" stroke-width="1.35"/>
<rect x="482.69" y="445.96" width="7.3" height="19.04" fill="#fff" stroke="#000" stroke-width="1.35"/>
<rect x="491.33" y="448.65" width="7.3" height="16.35" fill="#000" stroke="#000" stroke-width="1.35"/>
<rect x="499.99" y="448.95" width="7.3" height="16.05" fill="url(#hatch)" stroke="#000" stroke-width="1.35"/>
<line x1="376.9" y1="374.8" x2="376.9" y2="465.7" stroke="#000" stroke-width="1.5"/>
<line x1="373.7" y1="465" x2="376.9" y2="465" stroke="#000" stroke-width="1.2"/>
<text x="373.4" y="467.2" font-size="6.1" text-anchor="end" font-weight="bold" font-family='"Liberation Sans", sans-serif' fill="#000" class="t">0</text>
<line x1="373.7" y1="435.13" x2="376.9" y2="435.13" stroke="#000" stroke-width="1.2"/>
<text x="373.4" y="437.33" font-size="6.1" text-anchor="end" font-weight="bold" font-family='"Liberation Sans", sans-serif' fill="#000" class="t">500</text>
<line x1="373.7" y1="405.27" x2="376.9" y2="405.27" stroke="#000" stroke-width="1.2"/>
<text x="373.4" y="407.47" font-size="6.1" text-anchor="end" font-weight="bold" font-family='"Liberation Sans", sans-serif' fill="#000" class="t">1000</text>
<line x1="373.7" y1="375.4" x2="376.9" y2="375.4" stroke="#000" stroke-width="1.2"/>
<text x="373.4" y="377.6" font-size="6.1" text-anchor="end" font-weight="bold" font-family='"Liberation Sans", sans-serif' fill="#000" class="t">1500</text>
<line x1="376.2" y1="465" x2="512.9" y2="465" stroke="#000" stroke-width="1.5"/>
<rect x="383.9" y="376.3" width="9.8" height="4.6" fill="#fff" stroke="#000" stroke-width="1.4"/>
<text x="399.2" y="381.2" font-size="7.3" text-anchor="start" font-weight="bold" font-family='"Liberation Sans", sans-serif' fill="#000" class="t">Mock</text>
<rect x="383.9" y="386.9" width="9.8" height="4.6" fill="#000" stroke="#000" stroke-width="1.4"/>
<text x="399.2" y="391.8" font-size="7.3" text-anchor="start" font-weight="bold" font-family='"Liberation Sans", sans-serif' fill="#000" class="t">DV5</text>
<rect x="383.9" y="397.5" width="9.8" height="4.6" fill="url(#hatch)" stroke="#000" stroke-width="1.4"/>
<text x="399.2" y="402.4" font-size="7.3" text-anchor="start" font-weight="bold" font-family='"Liberation Sans", sans-serif' fill="#000" class="t">DV30</text>
<text x="355" y="420.5" font-size="7.2" text-anchor="middle" font-weight="bold" font-family='"Liberation Sans", sans-serif' fill="#000" transform="rotate(-90 355 420.5)" class="t">IL-18 (pg/ml)</text>
<text x="441.9" y="364.5" font-size="9" text-anchor="middle" font-weight="bold" font-family='"Liberation Sans", sans-serif' fill="#000" class="t">24 h</text>
<text x="395" y="475.3" font-size="7.5" text-anchor="middle" font-weight="bold" font-family='"Liberation Sans", sans-serif' fill="#000" class="t">sup.</text>
<text x="429.2" y="475.3" font-size="7.5" text-anchor="middle" font-weight="bold" font-family='"Liberation Sans", sans-serif' fill="#000" class="t">lysate</text>
<text x="460.3" y="475.3" font-size="7.5" text-anchor="middle" font-weight="bold" font-family='"Liberation Sans", sans-serif' fill="#000" class="t">sup.</text>
<text x="494.5" y="475.3" font-size="7.5" text-anchor="middle" font-weight="bold" font-family='"Liberation Sans", sans-serif' fill="#000" class="t">lysate</text>
<line x1="378.2" y1="479.7" x2="441.2" y2="479.7" stroke="#000" stroke-width="1.5"/>
<line x1="447.9" y1="479.7" x2="510.9" y2="479.7" stroke="#000" stroke-width="1.5"/>
<text x="416.1" y="491.8" font-size="8.6" text-anchor="middle" font-weight="bold" font-family='"Liberation Sans", sans-serif' fill="#000">Non-priming</text>
<text x="482" y="491.8" font-size="8.6" text-anchor="middle" font-weight="bold" font-family='"Liberation Sans", sans-serif' fill="#000">priming</text>
<text x="25.8" y="518.9" font-size="14.6" text-anchor="start" font-weight="bold" font-family='"Liberation Sans", sans-serif' fill="#000">C</text>
<text x="172.8" y="512.4" font-size="11.9" text-anchor="middle" font-weight="bold" font-family='"Liberation Sans", sans-serif' fill="#000">Non-priming</text>
<line x1="113" y1="519.5" x2="223.8" y2="519.5" stroke="#000" stroke-width="1.2"/>
<text x="114.4" y="532" font-size="11.9" text-anchor="start" font-weight="bold" font-family='"Liberation Sans", sans-serif' fill="#000">Mock</text>
<text x="196" y="532" font-size="11.9" text-anchor="start" font-weight="bold" font-family='"Liberation Sans", sans-serif' fill="#000">DV</text>
<text x="309.5" y="512" font-size="11.9" text-anchor="middle" font-weight="bold" font-family='"Liberation Sans", sans-serif' fill="#000">priming</text>
<line x1="249.8" y1="519.5" x2="360.2" y2="519.5" stroke="#000" stroke-width="1.2"/>
<text x="260.4" y="532" font-size="11.9" text-anchor="start" font-weight="bold" font-family='"Liberation Sans", sans-serif' fill="#000">Mock</text>
<text x="338.5" y="532" font-size="11.9" text-anchor="start" font-weight="bold" font-family='"Liberation Sans", sans-serif' fill="#000">DV</text>
<text x="90.6" y="547.6" font-size="11.6" text-anchor="end" font-weight="bold" font-family='"Liberation Sans", sans-serif' fill="#000">Pro-IL-1<tspan font-family='"Liberation Serif", serif' font-weight="normal" font-size="13">β</tspan></text>
<text x="91.4" y="569.4" font-size="11.6" text-anchor="end" font-weight="bold" font-family='"Liberation Sans", sans-serif' fill="#000">Mature IL-1<tspan font-family='"Liberation Serif", serif' font-weight="normal" font-size="13">β</tspan></text>
<text x="91.2" y="590.6" font-size="11.6" text-anchor="end" font-weight="bold" font-family='"Liberation Sans", sans-serif' fill="#000">Actin</text>
<text x="390.2" y="573" font-size="11.6" text-anchor="start" font-weight="bold" font-family='"Liberation Sans", sans-serif' fill="#000">IB: IL-1<tspan font-family='"Liberation Serif", serif' font-weight="normal" font-size="13">β</tspan> and Actin</text>
<text x="180.5" y="614.8" font-size="11.9" text-anchor="middle" font-weight="bold" font-family='"Liberation Sans", sans-serif' fill="#000">Non- priming</text>
<line x1="114.6" y1="618.6" x2="223.8" y2="618.6" stroke="#000" stroke-width="1.2"/>
<text x="113.8" y="631.3" font-size="11.9" text-anchor="start" font-weight="bold" font-family='"Liberation Sans", sans-serif' fill="#000">Mock</text>
<text x="188.3" y="631.3" font-size="11.9" text-anchor="start" font-weight="bold" font-family='"Liberation Sans", sans-serif' fill="#000">DV</text>
<text x="308.8" y="615.2" font-size="11.9" text-anchor="middle" font-weight="bold" font-family='"Liberation Sans", sans-serif' fill="#000">priming</text>
<line x1="247.9" y1="618.6" x2="358.1" y2="618.6" stroke="#000" stroke-width="1.2"/>
<text x="259.4" y="631.4" font-size="11.9" text-anchor="start" font-weight="bold" font-family='"Liberation Sans", sans-serif' fill="#000">Mock</text>
<text x="334.8" y="631.4" font-size="11.9" text-anchor="start" font-weight="bold" font-family='"Liberation Sans", sans-serif' fill="#000">DV</text>
<text x="90.8" y="651.6" font-size="11.7" text-anchor="end" font-weight="bold" font-family='"Liberation Sans", sans-serif' fill="#000">Pro-IL-18</text>
<text x="95.4" y="670.1" font-size="11.7" text-anchor="end" font-weight="bold" font-family='"Liberation Sans", sans-serif' fill="#000">Mature IL-18</text>
<text x="395.6" y="658.9" font-size="11.6" text-anchor="start" font-weight="bold" font-family='"Liberation Sans", sans-serif' fill="#000">IP: IL-18;&#160; IB: IL-18</text>
<rect x="99.3" y="535.4" width="137.5" height="20.6" fill="#0c0c0c"/>
<clipPath id="c1"><rect x="101.3" y="537.4" width="133.5" height="16.6"/></clipPath>
<rect x="101.3" y="537.4" width="133.5" height="16.6" fill="#747474"/>
<g clip-path="url(#c1)">
<rect x="101" y="552" width="135" height="3" fill="#7c7c7c" opacity="1" filter="url(#b1)"/>
<path d="M101 544.2 C 108 544 115 543 125 542.2 C 140 541.2 150 541.6 158 543.3 C 165 543.6 170 543 180 542.5 C 200 541.3 215 541.8 235 542.2 L235 544.6 C 215 544.2 200 543.6 180 544.6 C 170 545.4 165 546 158 545.8 C 150 544 140 543.6 125 544.4 C 115 545.2 108 546.4 101 546.4 Z" fill="#2e2e2e" opacity="0.9" filter="url(#b0_7)"/>
<ellipse cx="107" cy="545.2" rx="4.5" ry="1.5" fill="#333" opacity="0.8" filter="url(#b1)"/>
<ellipse cx="172" cy="544.4" rx="4.5" ry="1.5" fill="#333" opacity="0.8" filter="url(#b1)"/>
<ellipse cx="227" cy="544" rx="6" ry="1.6" fill="#333" opacity="0.8" filter="url(#b1)"/>
<ellipse cx="200" cy="544.2" rx="14" ry="1.3" fill="#404040" opacity="0.6" filter="url(#b1)"/>
</g>
<rect x="99.3" y="558.5" width="137.5" height="20.8" fill="#0c0c0c"/>
<clipPath id="c2"><rect x="101.3" y="560.5" width="133.5" height="16.8"/></clipPath>
<rect x="101.3" y="560.5" width="133.5" height="16.8" fill="#878787"/>
<g clip-path="url(#c2)">
<ellipse cx="113" cy="570.5" rx="10" ry="1.5" fill="#6a6a6a" opacity="0.8" filter="url(#b1)"/>
<ellipse cx="205" cy="568.5" rx="25" ry="1.5" fill="#666" opacity="0.8" filter="url(#b1)"/>
</g>
<rect x="99.3" y="582.3" width="137.5" height="20.8" fill="#0c0c0c"/>
<clipPath id="c3"><rect x="101.3" y="584.3" width="133.5" height="16.8"/></clipPath>
<rect x="101.3" y="584.3" width="133.5" height="16.8" fill="#646464"/>
<g clip-path="url(#c3)">
<rect x="101" y="585.5" width="135" height="9.5" fill="#262626" opacity="1" filter="url(#b1)"/>
<rect x="101" y="596" width="135" height="5" fill="#6e6e6e" opacity="1" filter="url(#b1)"/>
<ellipse cx="168" cy="585" rx="8" ry="1.5" fill="#777" opacity="0.8" filter="url(#b1)"/>
<ellipse cx="231" cy="585" rx="5" ry="1.5" fill="#777" opacity="0.8" filter="url(#b1)"/>
</g>
<rect x="240.6" y="535.3" width="138.2" height="20.9" fill="#0c0c0c"/>
<clipPath id="c4"><rect x="242.6" y="537.3" width="134.2" height="16.9"/></clipPath>
<rect x="242.6" y="537.3" width="134.2" height="16.9" fill="#5e5e5e"/>
<g clip-path="url(#c4)">
<rect x="242" y="537" width="136" height="3.5" fill="#484848" opacity="1" filter="url(#b0_8)"/>
<path d="M242 539.8 Q 260 539 280 540.3 Q 295 539.5 305 538.5 Q 315 537.3 330 537.3 L 377 537.3 L377 548.3 Q 340 548.8 320 547.8 Q 300 546.5 285 546 Q 265 547 242 546.5 Z" fill="#111" opacity="1" filter="url(#b0_9)"/>
<ellipse cx="350" cy="543" rx="25" ry="3.8" fill="#050505" opacity="0.8" filter="url(#b1_2)"/>
<rect x="242" y="549" width="136" height="6" fill="#626262" opacity="1" filter="url(#b0_8)"/>
</g>
<rect x="240.6" y="558.8" width="138.2" height="21" fill="#0c0c0c"/>
<clipPath id="c5"><rect x="242.6" y="560.8" width="134.2" height="17"/></clipPath>
<rect x="242.6" y="560.8" width="134.2" height="17" fill="#7d7d7d"/>
<g clip-path="url(#c5)">
<path d="M 318 569 Q 330 565.5 350 566 L 376 566 L 376 572 L 350 572 Q 330 572.5 318 569 Z" fill="#0c0c0c" opacity="1" filter="url(#b1_2)"/>
<ellipse cx="258" cy="574" rx="1.5" ry="1.2" fill="#333" opacity="0.9" filter="url(#b0_5)"/>
</g>
<rect x="240.6" y="582.4" width="138.2" height="21.1" fill="#0c0c0c"/>
<clipPath id="c6"><rect x="242.6" y="584.4" width="134.2" height="17.1"/></clipPath>
<rect x="242.6" y="584.4" width="134.2" height="17.1" fill="#2c2c2c"/>
<g clip-path="url(#c6)">
<rect x="242" y="584.5" width="136" height="3" fill="#4a4a4a" opacity="1" filter="url(#b0_8)"/>
<rect x="242" y="588.5" width="136" height="8" fill="#1c1c1c" opacity="1" filter="url(#b1)"/>
<path d="M242 597.5 Q 280 596.5 300 598 Q 330 598.5 377 597 L 377 602 L 242 602 Z" fill="#595959" opacity="1" filter="url(#b0_8)"/>
<ellipse cx="255" cy="586" rx="12" ry="1.2" fill="#666" opacity="0.6" filter="url(#b0_8)"/>
<ellipse cx="365" cy="586" rx="10" ry="1.2" fill="#555" opacity="0.6" filter="url(#b0_8)"/>
</g>
<rect x="100" y="635.2" width="137.4" height="20.4" fill="#0c0c0c"/>
<clipPath id="c7"><rect x="102" y="637.2" width="133.4" height="16.4"/></clipPath>
<rect x="102" y="637.2" width="133.4" height="16.4" fill="#474747"/>
<g clip-path="url(#c7)">
<ellipse cx="131" cy="644.6" rx="26" ry="3.6" fill="#262626" opacity="1" filter="url(#b1_5)"/>
<ellipse cx="197" cy="644.6" rx="28" ry="3.6" fill="#262626" opacity="1" filter="url(#b1_5)"/>
<rect x="102" y="650.5" width="134" height="3.5" fill="#555" opacity="1" filter="url(#b0_8)"/>
</g>
<rect x="100" y="657.8" width="137.4" height="20.5" fill="#0c0c0c"/>
<clipPath id="c8"><rect x="102" y="659.8" width="133.4" height="16.5"/></clipPath>
<rect x="102" y="659.8" width="133.4" height="16.5" fill="#6c6c6c"/>
<g clip-path="url(#c8)">
<path d="M 167 666 Q 180 663 200 663.5 Q 215 663.5 224 665.5 Q 215 668.5 200 668.5 Q 180 668.5 167 666 Z" fill="#303030" opacity="1" filter="url(#b1)"/>
<ellipse cx="146.6" cy="668.7" rx="3" ry="1.8" fill="#2a2a2a" opacity="1" filter="url(#b0_9)"/>
<ellipse cx="156" cy="673.6" rx="3" ry="2" fill="#222" opacity="1" filter="url(#b0_9)"/>
<ellipse cx="139" cy="675.5" rx="3" ry="1.6" fill="#3a3a3a" opacity="1" filter="url(#b0_9)"/>
<ellipse cx="207.3" cy="672.8" rx="2.4" ry="2.2" fill="#2a2a2a" opacity="1" filter="url(#b0_9)"/>
<ellipse cx="150" cy="676" rx="3.5" ry="1.4" fill="#4a4a4a" opacity="1" filter="url(#b0_9)"/>
</g>
<rect x="240.4" y="635.3" width="136.8" height="20.2" fill="#0c0c0c"/>
<clipPath id="c9"><rect x="242.4" y="637.3" width="132.8" height="16.2"/></clipPath>
<rect x="242.4" y="637.3" width="132.8" height="16.2" fill="#363636"/>
<g clip-path="url(#c9)">
<rect x="249" y="638.5" width="58" height="12" fill="#1c1c1c" opacity="1" filter="url(#b2_5)"/>
<ellipse cx="343" cy="645.5" rx="27" ry="3.8" fill="#232323" opacity="1" filter="url(#b1_5)"/>
<rect x="242" y="652.2" width="133" height="1.3" fill="#f0f0f0" opacity="1" filter="url(#b0_25)"/>
</g>
<rect x="240.4" y="657.8" width="136.8" height="19.9" fill="#0c0c0c"/>
<clipPath id="c10"><rect x="242.4" y="659.8" width="132.8" height="15.9"/></clipPath>
<rect x="242.4" y="659.8" width="132.8" height="15.9" fill="#585858"/>
<g clip-path="url(#c10)">
<path d="M 313 666.5 Q 325 662.5 345 663 Q 360 663 370 665.5 Q 362 670 345 670 Q 325 670.5 313 666.5 Z" fill="#2e2e2e" opacity="1" filter="url(#b1_5)"/>
<ellipse cx="253" cy="667.3" rx="2.5" ry="3" fill="#2a2a2a" opacity="1" filter="url(#b0_8)"/>
<ellipse cx="270" cy="667" rx="6" ry="2.5" fill="#4a4a4a" opacity="0.8" filter="url(#b1)"/>
<ellipse cx="303.6" cy="667" rx="1.8" ry="3.5" fill="#2a2a2a" opacity="0.9" filter="url(#b0_8)"/>
<ellipse cx="252" cy="675" rx="3" ry="1.5" fill="#333" opacity="0.8" filter="url(#b0_8)"/>
<ellipse cx="280" cy="666" rx="6" ry="2" fill="#606060" opacity="0.6" filter="url(#b1)"/>
</g>
</svg>
</body></html>
